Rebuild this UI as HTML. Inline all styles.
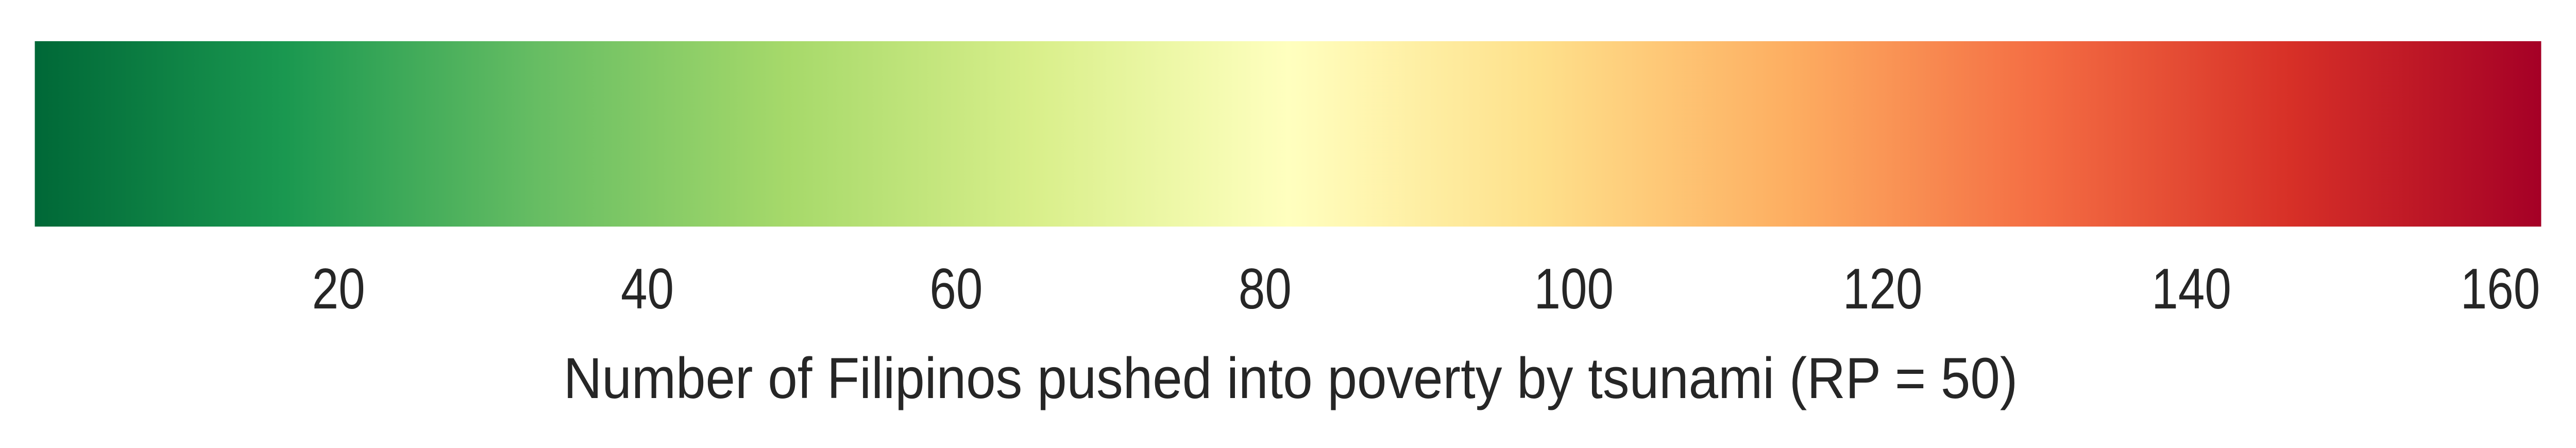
<!DOCTYPE html>
<html><head><meta charset="utf-8"><style>
html,body{margin:0;padding:0;background:#fff;width:100%;height:100%;overflow:hidden;}
svg{display:block;width:100vw;height:100vh;}
</style></head><body>
<svg id="chart" viewBox="0 0 5920 870" preserveAspectRatio="none" xmlns="http://www.w3.org/2000/svg">
<defs><linearGradient id="cmap" x1="0" x2="1" y1="0" y2="0"></linearGradient></defs>
<rect id="bar" x="80" y="80" width="5760" height="360" fill="url(#cmap)"/>
<g id="ticks"></g>
<text x="2966" y="773" text-anchor="middle" textLength="3342" lengthAdjust="spacingAndGlyphs" font-family="Liberation Sans, sans-serif" font-size="112" fill="#262626">Number of Filipinos pushed into poverty by tsunami (RP = 50)</text>
</svg>
<script>
const colorStops = ['#006837','#1a9850','#66bd63','#a6d96a','#d9ef8b','#ffffbf','#fee08b','#fdae61','#f46d43','#d73027','#a50026'];
const domainMin = 0.33;
const domainMax = 162.65;
const tickValues = [20,40,60,80,100,120,140,160];
const tickLabels = ['20','40','60','80','100','120','140','160'];

const X0 = 80, X1 = 5840;
function xScale(v){ return X0 + (v - domainMin) / (domainMax - domainMin) * (X1 - X0); }

const ns = 'http://www.w3.org/2000/svg';
const grad = document.getElementById('cmap');
colorStops.forEach((c,i)=>{
  const s = document.createElementNS(ns,'stop');
  s.setAttribute('offset', (i/(colorStops.length-1)*100)+'%');
  s.setAttribute('stop-color', c);
  grad.appendChild(s);
});
const g = document.getElementById('ticks');
tickValues.forEach((v,i)=>{
  const t = document.createElementNS(ns,'text');
  
  
  t.setAttribute('x', xScale(v));
  t.setAttribute('y', 599);
  t.setAttribute('text-anchor','middle');
  t.setAttribute('font-family','Liberation Sans, sans-serif');
  t.setAttribute('font-size','111');
  t.setAttribute('fill','#262626');
  t.setAttribute('textLength', tickLabels[i].length * 61);
  t.setAttribute('lengthAdjust','spacingAndGlyphs');
  t.textContent = tickLabels[i];
  g.appendChild(t);
});
</script>
</body></html>
